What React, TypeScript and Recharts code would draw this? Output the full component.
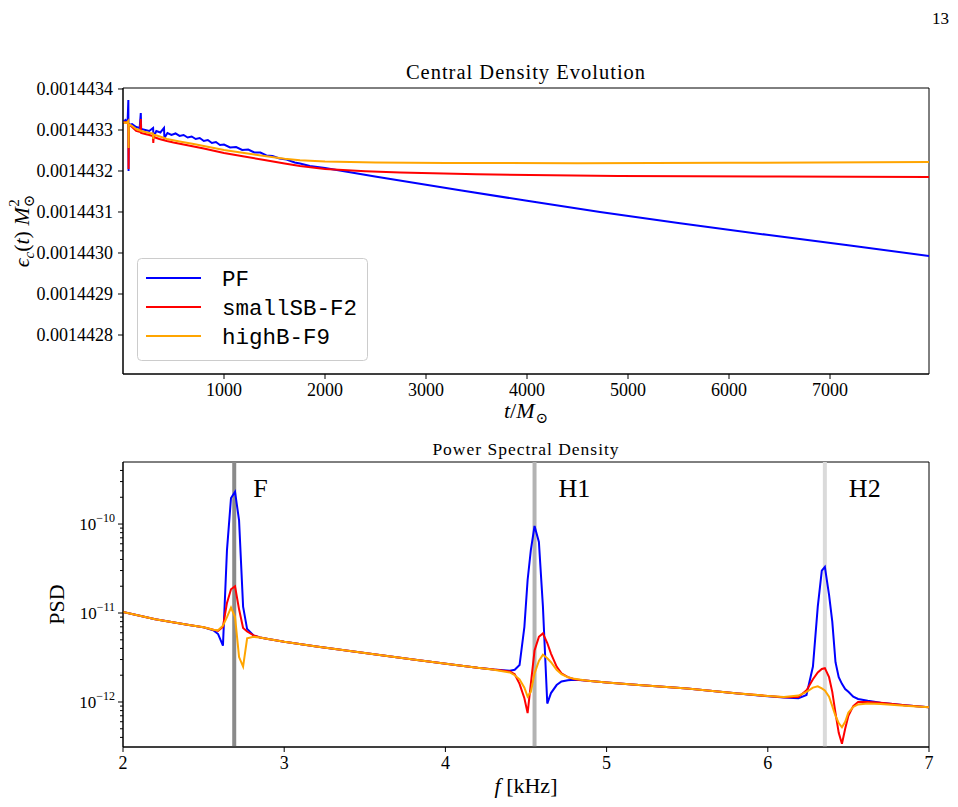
import React from 'react';
import { LineChart, Line, XAxis, YAxis, ReferenceLine, ReferenceArea, Legend } from 'recharts';

const SERIF = '"Liberation Serif", "DejaVu Serif", serif';
const MONO = '"Liberation Mono", "DejaVu Sans Mono", monospace';

// ---- central density evolution ----
const pfTime = [0, 25, 45, 53, 55, 58, 90, 130, 165, 176, 180, 220, 260, 298, 302, 330, 370, 406, 410, 440, 480, 520, 560, 600, 640, 680, 720, 760, 800, 840, 880, 920, 960, 1000, 1060, 1120, 1180, 1240, 1300, 1360, 1420, 1480, 1550, 1620, 1700, 1752, 1850, 2000, 2495, 3337, 4000, 4723, 5515, 6376, 7198, 7980];
const pfDensity = [1.4433195e-3, 1.4433244e-3, 1.4433171e-3, 1.4433732e-3, 1.4432000e-3, 1.4433122e-3, 1.4433146e-3, 1.4433073e-3, 1.4433049e-3, 1.4433415e-3, 1.4433024e-3, 1.4433000e-3, 1.4432976e-3, 1.4433049e-3, 1.4432829e-3, 1.4432976e-3, 1.4432939e-3, 1.4433049e-3, 1.4432805e-3, 1.4432927e-3, 1.4432878e-3, 1.4432915e-3, 1.4432854e-3, 1.4432878e-3, 1.4432817e-3, 1.4432841e-3, 1.4432780e-3, 1.4432805e-3, 1.4432732e-3, 1.4432756e-3, 1.4432683e-3, 1.4432707e-3, 1.4432634e-3, 1.4432646e-3, 1.4432573e-3, 1.4432585e-3, 1.4432512e-3, 1.4432524e-3, 1.4432451e-3, 1.4432451e-3, 1.4432378e-3, 1.4432366e-3, 1.4432305e-3, 1.4432281e-3, 1.4432207e-3, 1.4432183e-3, 1.4432122e-3, 1.4432073e-3, 1.4431866e-3, 1.4431529e-3, 1.4431273e-3, 1.4431000e-3, 1.4430727e-3, 1.4430444e-3, 1.4430183e-3, 1.4429927e-3];

const smallSBTime = [0, 25, 45, 53, 55, 58, 90, 130, 170, 176, 180, 220, 260, 296, 300, 304, 360, 435, 500, 600, 700, 800, 900, 1000, 1200, 1400, 1600, 1752, 2000, 2400, 2743, 3500, 4900, 6500, 7980];
const smallSBDensity = [1.4433171e-3, 1.4433195e-3, 1.4433171e-3, 1.4433146e-3, 1.4432049e-3, 1.4433146e-3, 1.4433073e-3, 1.4432976e-3, 1.4432951e-3, 1.4433268e-3, 1.4432927e-3, 1.4432902e-3, 1.4432878e-3, 1.4432854e-3, 1.4432683e-3, 1.4432829e-3, 1.4432780e-3, 1.4432732e-3, 1.4432695e-3, 1.4432646e-3, 1.4432598e-3, 1.4432549e-3, 1.4432493e-3, 1.4432439e-3, 1.4432354e-3, 1.4432268e-3, 1.4432183e-3, 1.4432122e-3, 1.4432049e-3, 1.4431993e-3, 1.4431963e-3, 1.4431920e-3, 1.4431878e-3, 1.4431866e-3, 1.4431854e-3];

const highBTime = [0, 25, 45, 53, 55, 58, 90, 130, 180, 220, 260, 296, 300, 304, 380, 435, 560, 700, 850, 1000, 1200, 1400, 1600, 1752, 2000, 2500, 3200, 4500, 6000, 7980];
const highBDensity = [1.4433195e-3, 1.4433171e-3, 1.4433195e-3, 1.4433220e-3, 1.4432561e-3, 1.4433146e-3, 1.4433098e-3, 1.4433024e-3, 1.4432976e-3, 1.4432951e-3, 1.4432927e-3, 1.4432915e-3, 1.4432780e-3, 1.4432890e-3, 1.4432829e-3, 1.4432780e-3, 1.4432720e-3, 1.4432659e-3, 1.4432585e-3, 1.4432512e-3, 1.4432439e-3, 1.4432366e-3, 1.4432300e-3, 1.4432264e-3, 1.4432234e-3, 1.4432210e-3, 1.4432195e-3, 1.4432190e-3, 1.4432200e-3, 1.4432220e-3];

const timeTicks = [1000, 2000, 3000, 4000, 5000, 6000, 7000];
const densityTicks = [0.0014428, 0.0014429, 0.001443, 0.0014431, 0.0014432, 0.0014433, 0.0014434];
const timeDomain = [0, 7980];
const densityDomain = [0.0014427049, 0.0014434024];

// ---- power spectral density ----
const psdFreq = [2.0, 2.2, 2.4, 2.5, 2.56, 2.59, 2.62, 2.645, 2.67, 2.695, 2.72, 2.745, 2.77, 2.81, 2.85, 2.9, 3.0, 3.2, 3.5, 3.8, 4.1, 4.2, 4.3, 4.4, 4.43, 4.46, 4.49, 4.51, 4.53, 4.553, 4.58, 4.605, 4.632, 4.655, 4.69, 4.72, 4.76, 4.8, 4.85, 4.9, 5.0, 5.2, 5.5, 5.8, 6.0, 6.1, 6.19, 6.24, 6.28, 6.31, 6.335, 6.354, 6.38, 6.4, 6.42, 6.44, 6.46, 6.48, 6.5, 6.53, 6.56, 6.62, 6.7, 6.85, 7.0];
const psdPF = [1.03e-11, 8.5e-12, 7.4e-12, 6.9e-12, 6.4e-12, 5.8e-12, 4.3e-12, 5.1e-11, 1.96e-10, 2.3e-10, 1.1e-10, 1.18e-11, 6.6e-12, 5.6e-12, 5.3e-12, 5.1e-12, 4.75e-12, 4.2e-12, 3.55e-12, 3.0e-12, 2.55e-12, 2.42e-12, 2.32e-12, 2.25e-12, 2.3e-12, 2.6e-12, 7e-12, 2.35e-11, 5.1e-11, 9.5e-11, 6.3e-11, 1.18e-11, 9.6e-13, 1.26e-12, 1.55e-12, 1.7e-12, 1.76e-12, 1.78e-12, 1.76e-12, 1.72e-12, 1.66e-12, 1.55e-12, 1.42e-12, 1.25e-12, 1.16e-12, 1.12e-12, 1.1e-12, 1.2e-12, 2.5e-12, 1.18e-11, 3.0e-11, 3.3e-11, 1.6e-11, 8e-12, 2.8e-12, 1.9e-12, 1.6e-12, 1.4e-12, 1.3e-12, 1.15e-12, 1.08e-12, 1.03e-12, 9.8e-13, 9.2e-13, 8.7e-13];
const psdSmallSB = [1.03e-11, 8.5e-12, 7.4e-12, 6.9e-12, 6.5e-12, 6.3e-12, 7.0e-12, 1.3e-11, 1.85e-11, 2.0e-11, 1.1e-11, 6.8e-12, 6.2e-12, 5.6e-12, 5.3e-12, 5.1e-12, 4.75e-12, 4.2e-12, 3.55e-12, 3.0e-12, 2.55e-12, 2.42e-12, 2.32e-12, 2.2e-12, 2.05e-12, 1.6e-12, 1.1e-12, 7.5e-13, 1.6e-12, 3.8e-12, 5.4e-12, 5.9e-12, 4.6e-12, 3.5e-12, 2.5e-12, 2.1e-12, 1.9e-12, 1.8e-12, 1.76e-12, 1.72e-12, 1.66e-12, 1.55e-12, 1.42e-12, 1.25e-12, 1.17e-12, 1.13e-12, 1.14e-12, 1.35e-12, 1.8e-12, 2.15e-12, 2.35e-12, 2.4e-12, 1.9e-12, 1.3e-12, 7.5e-13, 4.5e-13, 3.4e-13, 5e-13, 7e-13, 9e-13, 1.0e-12, 1.0e-12, 9.8e-13, 9.2e-13, 8.7e-13];
const psdHighB = [1.03e-11, 8.5e-12, 7.4e-12, 6.9e-12, 6.5e-12, 6.4e-12, 7.2e-12, 9.0e-12, 1.15e-11, 9.0e-12, 3.2e-12, 2.5e-12, 5.2e-12, 5.4e-12, 5.3e-12, 5.1e-12, 4.75e-12, 4.2e-12, 3.55e-12, 3.0e-12, 2.55e-12, 2.42e-12, 2.3e-12, 2.15e-12, 2.0e-12, 1.8e-12, 1.45e-12, 1.15e-12, 1.3e-12, 2.1e-12, 2.9e-12, 3.4e-12, 3.1e-12, 2.8e-12, 2.3e-12, 2.05e-12, 1.9e-12, 1.82e-12, 1.77e-12, 1.72e-12, 1.66e-12, 1.55e-12, 1.42e-12, 1.25e-12, 1.17e-12, 1.14e-12, 1.18e-12, 1.3e-12, 1.45e-12, 1.5e-12, 1.42e-12, 1.35e-12, 1.15e-12, 9e-13, 7e-13, 5.8e-13, 5.2e-13, 6e-13, 7.6e-13, 8.8e-13, 9.4e-13, 9.6e-13, 9.5e-13, 9.1e-13, 8.7e-13];

const freqTicks = [2, 3, 4, 5, 6, 7];
const psdTicks = [4e-13, 5e-13, 6e-13, 7e-13, 8e-13, 9e-13, 1e-12, 2e-12, 3e-12, 4e-12, 5e-12, 6e-12, 7e-12, 8e-12, 9e-12, 1e-11, 2e-11, 3e-11, 4e-11, 5e-11, 6e-11, 7e-11, 8e-11, 9e-11, 1e-10, 2e-10, 3e-10, 4e-10];
const freqDomain = [2, 7];
const psdDomain = [3.12e-13, 4.98e-10];

const modeNames = ['F', 'H1', 'H2'];
const modeFreqs = [2.69, 4.553, 6.354];
const modeColors = ['#8a8a8a', '#b3b3b3', '#dadada'];
const modeLabelDx = [19, 24, 24];

const seriesNames = ['PF', 'smallSB-F2', 'highB-F9'];
const seriesColors = ['#0000ff', '#ff0000', '#ffa500'];

const pfRows = pfTime.map((t, i) => ({ t, v: pfDensity[i] }));
const smallSBRows = smallSBTime.map((t, i) => ({ t, v: smallSBDensity[i] }));
const highBRows = highBTime.map((t, i) => ({ t, v: highBDensity[i] }));
const psdRows = psdFreq.map((f, i) => ({ f, pf: psdPF[i], sb: psdSmallSB[i], hb: psdHighB[i] }));

const LegendBox = ({ payload }: any) => {
  const items = [...(payload || [])].sort(
    (a: any, b: any) => seriesNames.indexOf(a.value) - seriesNames.indexOf(b.value)
  );
  return (
    <svg width={231} height={103} style={{ display: 'block' }}>
      <rect x={0.5} y={0.5} width={230} height={102} rx={4} fill="#fff" fillOpacity={0.8} stroke="#cccccc" />
      {items.map((p: any, i: number) => (
        <g key={p.value}>
          <line x1={9} x2={64} y1={20 + i * 29} y2={20 + i * 29} stroke={p.color} strokeWidth={2} />
          <text x={85} y={28 + i * 29} fontFamily={MONO} fontSize={22.5} fill="#000">{p.value}</text>
        </g>
      ))}
    </svg>
  );
};

const LogTick = (props: any) => {
  const { x, y, payload } = props;
  const e = Math.log10(payload.value);
  const major = Math.abs(e - Math.round(e)) < 1e-6;
  return (
    <g>
      <line x1={x - (major ? 5 : 3)} x2={x} y1={y} y2={y} stroke="#000" strokeWidth={1} />
      {major && (
        <text x={x - 8} y={y + 6} textAnchor="end" fontFamily={SERIF} fontSize={17} fill="#000">
          10<tspan dy={-8} fontSize={12}>{'\u2212' + Math.abs(Math.round(e))}</tspan>
        </text>
      )}
    </g>
  );
};

export default function App() {
  return (
    <div style={{ position: 'absolute', left: 0, top: 0, width: 958, height: 807, background: '#fff' }}>
      <div style={{ position: 'absolute', left: 932, top: 9, fontFamily: SERIF, fontSize: 17, color: '#000' }}>13</div>

      <div style={{ position: 'absolute', left: 0, top: 0 }}>
        <LineChart width={958} height={430} margin={{ top: 88, right: 29, bottom: 26, left: 0 }}>
          <XAxis
            dataKey="t"
            type="number"
            domain={timeDomain}
            ticks={timeTicks}
            interval={0}
            allowDataOverflow
            height={30}
            tickSize={5}
            tickMargin={4}
            stroke="#000"
            tick={{ fill: '#000', fontSize: 18, fontFamily: SERIF }}
            label={(p: any) => {
              const cx = p.viewBox.x + p.viewBox.width / 2;
              const y = p.viewBox.y + 44;
              return (
                <text x={cx} y={y} textAnchor="middle" fontFamily={SERIF} fontSize={22} fill="#000">
                  <tspan fontStyle="italic">t</tspan>/<tspan fontStyle="italic">M</tspan>
                  <tspan dx={1} dy={5} fontSize={15}>⊙</tspan>
                </text>
              );
            }}
          />
          <YAxis
            dataKey="v"
            type="number"
            domain={densityDomain}
            ticks={densityTicks}
            interval={0}
            allowDataOverflow
            width={123}
            tickSize={5}
            tickMargin={5}
            stroke="#000"
            tickFormatter={(v: number) => v.toFixed(7)}
            tick={{ fill: '#000', fontSize: 18, fontFamily: SERIF }}
            label={(p: any) => {
              const cx = 29;
              const cy = p.viewBox.y + p.viewBox.height / 2;
              return (
                <text x={cx} y={cy} transform={`rotate(-90 ${cx} ${cy})`} textAnchor="middle" fontFamily={SERIF} fontSize={22} fill="#000">
                  <tspan fontStyle="italic">ϵ</tspan>
                  <tspan dy={5} fontSize={15} fontStyle="italic">c</tspan>
                  <tspan dy={-5}>(</tspan>
                  <tspan fontStyle="italic">t</tspan>
                  <tspan>) </tspan>
                  <tspan fontStyle="italic">M</tspan>
                  <tspan dy={5} fontSize={15}>⊙</tspan>
                  <tspan dx={-12} dy={-15} fontSize={15}>2</tspan>
                </text>
              );
            }}
          />
          <ReferenceArea
            x1={timeDomain[0]}
            x2={timeDomain[1]}
            y1={densityDomain[0]}
            y2={densityDomain[1]}
            fill="none"
            stroke="#000"
            strokeWidth={1}
            ifOverflow="visible"
            label={(p: any) => (
              <text x={p.viewBox.x + p.viewBox.width / 2} y={p.viewBox.y - 9} textAnchor="middle" fontFamily={SERIF} fontSize={20.5} letterSpacing={1} fill="#000">
                Central Density Evolution
              </text>
            )}
          />
          <Legend
            layout="vertical"
            align="center"
            verticalAlign="middle"
            wrapperStyle={{ left: 137, top: 258, width: 231, height: 103 }}
            content={<LegendBox />}
          />
          <Line data={pfRows} dataKey="v" name={seriesNames[0]} stroke={seriesColors[0]} strokeWidth={2} dot={false} type="linear" isAnimationActive={false} />
          <Line data={smallSBRows} dataKey="v" name={seriesNames[1]} stroke={seriesColors[1]} strokeWidth={2} dot={false} type="linear" isAnimationActive={false} />
          <Line data={highBRows} dataKey="v" name={seriesNames[2]} stroke={seriesColors[2]} strokeWidth={2} dot={false} type="linear" isAnimationActive={false} />
        </LineChart>
      </div>

      <div style={{ position: 'absolute', left: 0, top: 430 }}>
        <LineChart width={958} height={377} data={psdRows} margin={{ top: 32, right: 29, bottom: 30, left: 0 }}>
          <XAxis
            dataKey="f"
            type="number"
            domain={freqDomain}
            ticks={freqTicks}
            interval={0}
            allowDataOverflow
            height={30}
            tickSize={5}
            tickMargin={4}
            stroke="#000"
            tick={{ fill: '#000', fontSize: 18, fontFamily: SERIF }}
            label={(p: any) => (
              <text x={p.viewBox.x + p.viewBox.width / 2} y={p.viewBox.y + 46} textAnchor="middle" fontFamily={SERIF} fontSize={22} fill="#000">
                <tspan fontStyle="italic">f</tspan> [kHz]
              </text>
            )}
          />
          <YAxis
            type="number"
            scale="log"
            domain={psdDomain}
            ticks={psdTicks}
            interval={0}
            allowDataOverflow
            width={123}
            tickSize={0}
            tickMargin={0}
            tickLine={false}
            stroke="#000"
            tick={<LogTick />}
            label={(p: any) => {
              const cx = 64;
              const cy = p.viewBox.y + p.viewBox.height / 2;
              return (
                <text x={cx} y={cy} transform={`rotate(-90 ${cx} ${cy})`} textAnchor="middle" fontFamily={SERIF} fontSize={22} fill="#000">
                  PSD
                </text>
              );
            }}
          />
          <ReferenceArea
            x1={freqDomain[0]}
            x2={freqDomain[1]}
            y1={psdDomain[0]}
            y2={psdDomain[1]}
            fill="none"
            stroke="#000"
            strokeWidth={1}
            ifOverflow="visible"
            label={(p: any) => (
              <text x={p.viewBox.x + p.viewBox.width / 2} y={p.viewBox.y - 7} textAnchor="middle" fontFamily={SERIF} fontSize={17.5} letterSpacing={1} fill="#000">
                Power Spectral Density
              </text>
            )}
          />
          {modeFreqs.map((f, i) => (
            <ReferenceLine
              key={modeNames[i]}
              x={f}
              stroke={modeColors[i]}
              strokeWidth={4}
              label={(p: any) => (
                <text x={p.viewBox.x + modeLabelDx[i]} y={p.viewBox.y + 35} fontFamily={SERIF} fontSize={26} fill="#000">
                  {modeNames[i]}
                </text>
              )}
            />
          ))}
          <Line dataKey="pf" name={seriesNames[0]} stroke={seriesColors[0]} strokeWidth={2} dot={false} type="linear" isAnimationActive={false} />
          <Line dataKey="sb" name={seriesNames[1]} stroke={seriesColors[1]} strokeWidth={2} dot={false} type="linear" isAnimationActive={false} />
          <Line dataKey="hb" name={seriesNames[2]} stroke={seriesColors[2]} strokeWidth={2} dot={false} type="linear" isAnimationActive={false} />
        </LineChart>
      </div>
    </div>
  );
}
